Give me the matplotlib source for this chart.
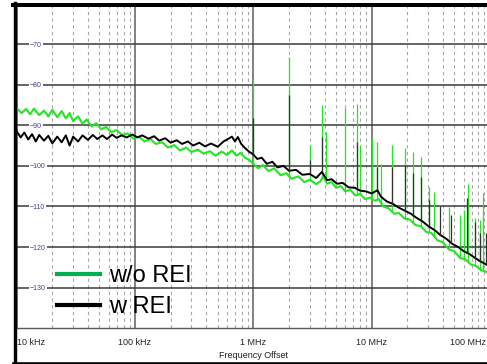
import numpy as np
import matplotlib.pyplot as plt
from matplotlib.lines import Line2D
from matplotlib.ticker import FixedLocator, LogLocator, NullFormatter
from matplotlib.transforms import ScaledTranslation

plt.rcParams['font.family'] = ['Liberation Sans', 'DejaVu Sans']

# trace without REI (green), frequency in Hz, level in dB
green_f = [10e3, 11e3, 12e3, 13e3, 14e3, 15.5e3, 17e3, 18.5e3, 20e3, 22e3, 24e3, 26e3,
           28e3, 30e3, 33e3, 36e3, 39e3, 43e3, 47e3, 52e3, 57e3, 63e3, 70e3, 78e3,
           87e3, 97e3, 108e3, 120e3, 135e3, 150e3, 170e3, 190e3, 215e3, 240e3, 270e3,
           300e3, 340e3, 380e3, 430e3, 480e3, 540e3, 600e3, 660e3, 720e3, 780e3,
           850e3, 920e3, 1.0e6, 1.1e6, 1.2e6, 1.35e6, 1.5e6, 1.7e6, 1.9e6, 2.1e6,
           2.4e6, 2.7e6, 3.0e6, 3.4e6, 3.7e6, 3.9e6, 4.2e6, 4.6e6, 5.0e6, 5.5e6,
           6.0e6, 6.6e6, 7.3e6, 8.0e6, 8.8e6, 9.7e6, 10.7e6, 11.5e6, 12.5e6, 14e6,
           15.5e6, 17e6, 19e6, 21e6, 23.5e6, 26e6, 29e6, 32e6, 36e6, 40e6, 45e6,
           50e6, 56e6, 62e6, 69e6, 76e6, 84e6, 92e6, 100e6]
green_db = [-85.8, -87.0, -86.0, -87.3, -85.9, -87.5, -86.4, -87.8, -86.2, -88.0, -86.5, -88.3,
            -87.0, -89.0, -87.8, -89.6, -88.6, -90.3, -89.5, -91.0, -90.4, -91.7, -91.2, -92.4,
            -92.0, -93.3, -92.8, -94.0, -93.4, -94.6, -94.2, -95.5, -94.9, -96.2, -95.5,
            -96.6, -96.0, -97.0, -96.4, -97.5, -96.5, -97.3, -96.2, -97.5, -96.8,
            -98.0, -98.5, -99.5, -100.6, -99.8, -101.3, -100.6, -102.3, -101.8, -103.2,
            -102.6, -104.0, -103.4, -104.5, -103.8, -102.6, -104.4, -104.0, -105.4, -105.0,
            -106.3, -105.9, -107.3, -106.9, -108.2, -107.8, -108.6, -108.2, -110.0, -110.5,
            -111.8, -111.6, -113.0, -113.2, -114.6, -114.8, -116.3, -116.5, -118.3, -118.8, -120.6,
            -121.0, -122.7, -123.0, -124.3, -124.6, -125.7, -126.0, -126.8]

# trace with REI (black)
black_f = [10e3, 10.8e3, 11.6e3, 12.5e3, 13.5e3, 14.5e3, 15.5e3, 17e3, 18.5e3, 20e3, 22e3,
           24e3, 26e3, 28e3, 30e3, 33e3, 36e3, 40e3, 44e3, 48e3, 53e3, 58e3, 64e3, 70e3,
           77e3, 85e3, 95e3, 105e3, 115e3, 130e3, 145e3, 160e3, 180e3, 200e3, 225e3,
           250e3, 280e3, 310e3, 350e3, 390e3, 440e3, 500e3, 560e3, 610e3, 660e3, 700e3,
           740e3, 790e3, 850e3, 920e3, 1.0e6, 1.08e6, 1.18e6, 1.3e6, 1.45e6, 1.6e6,
           1.8e6, 2.0e6, 2.3e6, 2.6e6, 3.0e6, 3.4e6, 3.8e6, 4.2e6, 4.6e6, 5.1e6, 5.7e6,
           6.4e6, 7.2e6, 8.0e6, 9.0e6, 10e6, 11.2e6, 12e6, 13.5e6, 15e6, 17e6, 19e6,
           21.5e6, 24e6, 27e6, 30e6, 34e6, 38e6, 43e6, 48e6, 54e6, 60e6, 67e6, 75e6,
           83e6, 92e6, 100e6]
black_db = [-91.5, -93.0, -91.8, -93.5, -92.2, -94.0, -92.4, -93.8, -92.6, -94.5, -92.8,
            -94.2, -92.5, -95.0, -92.8, -94.0, -92.5, -93.6, -92.4, -93.4, -92.5, -93.4, -92.3, -93.1,
            -92.5, -93.0, -92.3, -93.0, -92.5, -93.3, -92.7, -93.8, -93.2, -94.3, -93.7,
            -94.6, -94.0, -95.0, -94.3, -95.2, -94.5, -95.3, -94.0, -93.4, -92.8, -94.0,
            -92.9, -94.6, -95.6, -96.5, -97.2, -98.3, -98.0, -99.5, -99.0, -100.4,
            -100.0, -101.2, -101.0, -102.2, -102.0, -103.0, -101.5, -103.5, -103.3, -104.4, -104.2,
            -105.3, -105.4, -106.1, -106.3, -106.8, -106.0, -107.6, -108.8, -109.3, -110.3, -111.0,
            -111.8, -112.8, -113.7, -114.8, -115.8, -117.0, -118.0, -119.2, -120.0, -121.0, -121.7, -122.7,
            -123.5, -124.2, -124.8]

# spurs: frequency and peak level
green_spur_f = [1.0e6, 2.0e6, 3.0e6, 3.8e6, 4.1e6, 6.0e6, 7.5e6, 8.0e6, 10e6, 11.2e6, 12e6,
                15e6, 19e6, 22.6e6, 26e6, 30.5e6, 33.7e6, 44.8e6, 55.9e6, 60e6, 65e6, 74.8e6,
                82e6, 87e6]
green_spur_db = [-78.9, -73.2, -94.9, -85.0, -91.7, -85.8, -84.7, -95.2, -93.2, -94.1, -99.5,
                 -94.9, -95.6, -96.6, -97.8, -105.2, -106.4, -110.1, -112.0, -110.9, -104.5, -112.9,
                 -113.4, -106.7]
black_spur_f = [1.0e6, 2.0e6, 3.0e6, 3.8e6, 7.5e6, 11.2e6, 15e6, 19e6, 22.6e6, 26e6, 30.5e6,
                37.9e6, 46.9e6, 64e6, 74.8e6, 82e6, 92.6e6]
black_spur_db = [-88.2, -82.6, -98.6, -92.8, -94.1, -100.2, -100.3, -99.8, -101.8, -102.8, -108.4,
                 -110.0, -112.0, -107.9, -113.8, -116.6, -116.6]

xtick_vals = [1e4, 1e5, 1e6, 1e7, 1e8]
xtick_labels = ['10 kHz', '100 kHz', '1 MHz', '10 MHz', '100 MHz']
ytick_vals = [-130, -120, -110, -100, -90, -80, -70]
legend_labels = ['w/o REI', 'w REI']

GREEN = '#22e622'
LEG_GREEN = '#00b050'

W, H = 487, 364
fig = plt.figure(figsize=(W / 100, H / 100), dpi=100)
ax = fig.add_axes([16.7 / W, (H - 328.3) / H, 473.2 / W, 324.9 / H])

ax.set_xscale('log')
ax.set_xlim(1e4, 1e8)
ax.set_ylim(-140, -60)

# grid
ax.xaxis.set_major_locator(FixedLocator(xtick_vals))
ax.xaxis.set_minor_locator(LogLocator(base=10, subs=range(2, 10)))
ax.xaxis.set_minor_formatter(NullFormatter())
ax.set_xticklabels(xtick_labels)
ax.set_yticks(ytick_vals)
ax.set_axisbelow(True)
ax.grid(True, which='major', axis='x', color='#808080', lw=1.4)
ax.grid(True, which='minor', axis='x', color='#a8a8a8', lw=0.8, ls=(0, (3, 3)))
ax.grid(True, which='major', axis='y', color='#3a3a3a', lw=1.1)

for s in ['left', 'right', 'top']:
    ax.spines[s].set_visible(False)
ax.spines['bottom'].set_color('#555555')
ax.spines['bottom'].set_linewidth(1.0)

ax.tick_params(axis='x', which='both', length=0, pad=7, labelsize=6.5, labelcolor='#222222')
ax.tick_params(axis='y', length=0, pad=-9.6, labelsize=5, labelcolor='#4b3d8f')
for lab in ax.get_yticklabels():
    lab.set_horizontalalignment('left')
    lab.set_bbox(dict(facecolor='white', edgecolor='none', pad=0.6))
xl = ax.get_xticklabels()
xl[0].set_horizontalalignment('left')
xl[-1].set_horizontalalignment('right')
xl[-1].set_transform(xl[-1].get_transform() + ScaledTranslation(-0.04, 0, fig.dpi_scale_trans))
ax.set_xlabel('Frequency Offset', fontsize=6.5, color='#222222', labelpad=3)

# traces
ax.plot(green_f, green_db, color=GREEN, lw=1.5, zorder=2)
gbase = np.interp(np.log10(green_spur_f), np.log10(green_f), green_db)
ax.vlines(green_spur_f, gbase, green_spur_db, color=GREEN, lw=0.9, zorder=2)

ax.plot(black_f, black_db, color='black', lw=1.4, zorder=3)
bbase = np.interp(np.log10(black_spur_f), np.log10(black_f), black_db)
ax.vlines(black_spur_f, bbase, black_spur_db, color='#333333', lw=0.9, zorder=3)

handles = [Line2D([], [], color=LEG_GREEN, lw=3), Line2D([], [], color='black', lw=3)]
ax.legend(handles, legend_labels, loc='upper left', bbox_to_anchor=(0.0852, 0.194),
          frameon=False, fontsize=17, handlelength=1.8, handletextpad=0.42,
          labelspacing=0.36, borderpad=0, borderaxespad=0)

# thick outer frame
fig.add_artist(Line2D([15 / W, 15 / W], [0, (H - 2.5) / H], transform=fig.transFigure,
                      color='black', lw=3.4 * 0.72))
fig.add_artist(Line2D([13.3 / W, 1], [(H - 4.6) / H] * 2, transform=fig.transFigure,
                      color='black', lw=4 * 0.72))
fig.add_artist(Line2D([13.3 / W, 1], [(H - 362.8) / H] * 2, transform=fig.transFigure,
                      color='black', lw=2.6 * 0.72))

fig.savefig('out.png', dpi=100)
